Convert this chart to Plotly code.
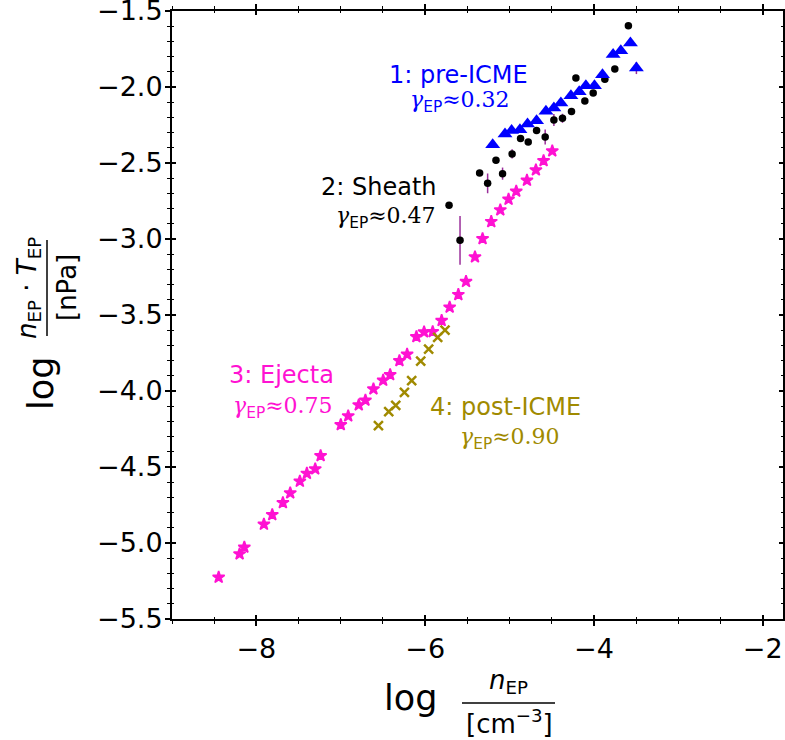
import plotly.graph_objects as go

# ---- data ----
sheath_x = [-5.717, -5.587, -5.355, -5.260, -5.161, -5.083, -4.970, -4.870, -4.779, -4.680,
            -4.578, -4.475, -4.373, -4.266, -4.214, -4.108, -4.009, -3.871, -3.753, -3.592]
sheath_y = [-2.778, -3.009, -2.566, -2.634, -2.482, -2.570, -2.440, -2.338, -2.362, -2.287,
            -2.329, -2.217, -2.206, -2.162, -1.941, -2.092, -2.039, -1.949, -1.882, -1.597]
sheath_err = [0.0, 0.16, 0.0, 0.065, 0.0, 0.04, 0.03, 0.0, 0.0, 0.0,
              0.05, 0.04, 0.03, 0.0, 0.0, 0.0, 0.0, 0.0, 0.0, 0.0]

pre_x = [-5.200, -5.054, -4.976, -4.877, -4.787, -4.680, -4.569, -4.475, -4.392, -4.273,
         -4.175, -4.096, -3.994, -3.899, -3.773, -3.682, -3.568, -3.497]
pre_y = [-2.380, -2.309, -2.287, -2.281, -2.243, -2.222, -2.160, -2.138, -2.105, -2.057,
         -2.031, -1.991, -1.991, -1.919, -1.787, -1.761, -1.710, -1.875]
pre_err = [0.0] * 17 + [0.04]

ejecta_x = [-8.447, -8.199, -8.143, -7.911, -7.812, -7.686, -7.599, -7.485, -7.402, -7.303,
            -7.239, -7.000, -6.912, -6.787, -6.708, -6.613, -6.498, -6.415, -6.305, -6.214,
            -6.104, -6.013, -5.911, -5.805, -5.710, -5.607, -5.516, -5.410, -5.320, -5.217,
            -5.110, -5.012, -4.921, -4.794, -4.688, -4.597, -4.494]
ejecta_y = [-5.226, -5.072, -5.028, -4.877, -4.814, -4.735, -4.671, -4.594, -4.542, -4.513,
            -4.426, -4.222, -4.164, -4.092, -4.061, -3.987, -3.930, -3.893, -3.801, -3.759,
            -3.643, -3.612, -3.610, -3.537, -3.449, -3.366, -3.280, -3.118, -2.998, -2.886,
            -2.809, -2.739, -2.686, -2.614, -2.546, -2.485, -2.421]

post_x = [-6.554, -6.432, -6.349, -6.246, -6.160, -6.053, -5.959, -5.852, -5.765]
post_y = [-4.228, -4.136, -4.094, -4.009, -3.932, -3.803, -3.724, -3.647, -3.599]

labels = ["1: pre-ICME", "2: Sheath", "3: Ejecta", "4: post-ICME"]
gammas = ["0.32", "0.47", "0.75", "0.90"]
label_x = [-5.607, -6.542, -7.702, -5.044]
label_y = [-1.921, -2.658, -3.895, -4.105]
gamma_x = [-5.583, -6.459, -7.690, -4.997]
gamma_y = [-2.097, -2.857, -4.107, -4.311]

x_range = [-9.0, -1.76]
y_range = [-5.5, -1.5]
y_ticks = [-5.5, -5.0, -4.5, -4.0, -3.5, -3.0, -2.5, -2.0, -1.5]

# ---- colours ----
BLUE = "#0000ff"
BLACK = "#000000"
PINK = "#ff12d2"
OLIVE = "#a08a00"
ERR = "#9a2f9a"
label_colors = [BLUE, BLACK, PINK, OLIVE]

fig = go.Figure()

fig.add_trace(go.Scatter(
    x=ejecta_x, y=ejecta_y, mode="markers",
    marker=dict(symbol="star", size=9, color=PINK, line=dict(width=1.6, color=PINK)),
    showlegend=False, hoverinfo="skip"))
fig.add_trace(go.Scatter(
    x=post_x, y=post_y, mode="markers",
    marker=dict(symbol="x-thin", size=9, color=OLIVE, line=dict(width=2.5, color=OLIVE)),
    showlegend=False, hoverinfo="skip"))
fig.add_trace(go.Scatter(
    x=sheath_x, y=sheath_y, mode="markers",
    marker=dict(symbol="circle", size=7.5, color=BLACK, line=dict(width=0)),
    error_y=dict(type="data", array=sheath_err, color=ERR, thickness=1.5, width=0),
    showlegend=False, hoverinfo="skip"))
fig.add_trace(go.Scatter(
    x=pre_x, y=pre_y, mode="markers",
    marker=dict(symbol="triangle-up", size=13, color=BLUE, line=dict(width=0)),
    error_y=dict(type="data", array=pre_err, color=ERR, thickness=1.5, width=0),
    showlegend=False, hoverinfo="skip"))
# empty trace for the overlay (inside-tick) axes
fig.add_trace(go.Scatter(x=[None], y=[None], xaxis="x2", yaxis="y2",
                         showlegend=False, hoverinfo="skip"))

tickfont = dict(family="DejaVu Sans", size=27, color="black")

common = dict(showgrid=False, zeroline=False, tickcolor="black", automargin=False)

fig.update_layout(
    width=785, height=740,
    margin=dict(l=172, r=2, t=11, b=121, autoexpand=False),
    paper_bgcolor="white", plot_bgcolor="white",
    font=dict(family="DejaVu Sans", color="black"),
    xaxis=dict(range=x_range, tick0=-8, dtick=2, ticks="outside", ticklen=5, tickwidth=1.5,
               showline=True, linecolor="black", linewidth=2, mirror="ticks",
               tickfont=tickfont, ticklabeloverflow="allow",
               minor=dict(ticks="outside", ticklen=3, tickwidth=1, tick0=-9, dtick=0.5,
                          tickcolor="black"),
               **common),
    yaxis=dict(range=y_range, tickmode="array", tickvals=y_ticks,
               tickformat=".1f", ticks="outside",
               ticklen=5, tickwidth=1.5, ticklabelstandoff=-3,
               showline=True, linecolor="black", linewidth=2, mirror="ticks",
               tickfont=tickfont, ticklabeloverflow="allow",
               minor=dict(ticks="outside", ticklen=3, tickwidth=1, tick0=-5.5, dtick=0.1,
                          tickcolor="black"),
               **common),
    xaxis2=dict(range=x_range, overlaying="x", anchor="y", side="bottom",
                tick0=-8, dtick=2, ticks="inside", ticklen=4, tickwidth=1.5,
                showline=False, mirror="ticks", showticklabels=False,
                minor=dict(ticks="inside", ticklen=2, tickwidth=1, tick0=-9, dtick=0.5,
                           tickcolor="black"),
                **common),
    yaxis2=dict(range=y_range, overlaying="y", anchor="x", side="left",
                tickmode="array", tickvals=y_ticks,
                ticks="inside", ticklen=4, tickwidth=1.5,
                showline=False, mirror="ticks", showticklabels=False,
                minor=dict(ticks="inside", ticklen=2, tickwidth=1, tick0=-5.5, dtick=0.1,
                           tickcolor="black"),
                **common),
)

annotations = []
SERIF = "DejaVu Serif"
for lab, g, lx, ly, gx, gy, c in zip(labels, gammas, label_x, label_y, gamma_x, gamma_y, label_colors):
    annotations.append(dict(x=lx, y=ly, xref="x", yref="y", text=lab, showarrow=False,
                            font=dict(family="DejaVu Sans", size=24, color=c),
                            xanchor="center", yanchor="middle"))
    gtxt = ("<i>γ</i><sub><span style='font-family:DejaVu Sans'>EP</span></sub>≈" + g)
    annotations.append(dict(x=gx, y=gy, xref="x", yref="y", text=gtxt, showarrow=False,
                            font=dict(family=SERIF, size=22, color=c),
                            xanchor="center", yanchor="middle"))

# ---- axis titles (fractions) ----
W, H = 611.0, 608.0
def px(xp):
    return (xp - 172.0) / W
def py(yp):
    return (619.0 - yp) / H

# x title
annotations.append(dict(x=px(410), y=py(698), xref="paper", yref="paper", text="log",
                        showarrow=False, font=dict(size=35), xanchor="center", yanchor="middle"))
annotations.append(dict(x=px(508), y=py(681), xref="paper", yref="paper",
                        text="<i>n</i><sub>EP</sub>", showarrow=False, font=dict(size=26),
                        xanchor="center", yanchor="middle"))
annotations.append(dict(x=px(509), y=py(722), xref="paper", yref="paper",
                        text="[cm<sup>−3</sup>]", showarrow=False, font=dict(size=26),
                        xanchor="center", yanchor="middle"))
# y title
annotations.append(dict(x=px(41), y=py(384), xref="paper", yref="paper", text="log",
                        showarrow=False, font=dict(size=35), textangle=-90,
                        xanchor="center", yanchor="middle"))
annotations.append(dict(x=px(28), y=py(288), xref="paper", yref="paper",
                        text="<i>n</i><sub>EP</sub> · <i>T</i><sub>EP</sub>", showarrow=False,
                        font=dict(size=26), textangle=-90, xanchor="center", yanchor="middle"))
annotations.append(dict(x=px(67), y=py(288), xref="paper", yref="paper",
                        text="[nPa]", showarrow=False, font=dict(size=26), textangle=-90,
                        xanchor="center", yanchor="middle"))

shapes = [
    dict(type="line", xref="paper", yref="paper", x0=px(462), x1=px(555), y0=py(703), y1=py(703),
         line=dict(color="black", width=1.5)),
    dict(type="line", xref="paper", yref="paper", x0=px(47), x1=px(47), y0=py(240), y1=py(336),
         line=dict(color="black", width=1.5)),
]

fig.update_layout(annotations=annotations, shapes=shapes)

fig.write_html("out.html")
